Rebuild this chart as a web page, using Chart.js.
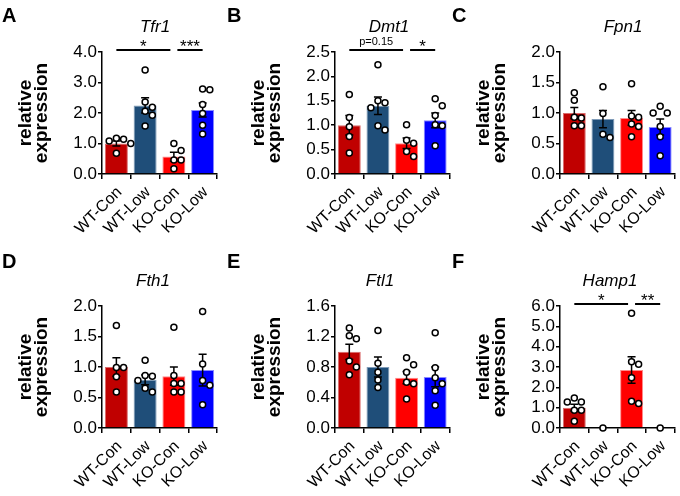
<!DOCTYPE html>
<html>
<head>
<meta charset="utf-8">
<script src="https://cdn.jsdelivr.net/npm/chart.js@4.4.1/dist/chart.umd.min.js"></script>
<style>
  html, body { margin: 0; padding: 0; background: #fff; }
  #fig { position: relative; width: 680px; height: 496px; overflow: hidden; }
  #fig canvas { position: absolute; }
</style>
</head>
<body>
<div id="fig"></div>
<script>
// Grupos e genes
const groups = ["WT-Con", "WT-Low", "KO-Con", "KO-Low"];
const letters = ["A", "B", "C", "D", "E", "F"];
const genes = ["Tfr1", "Dmt1", "Fpn1", "Fth1", "Ftl1", "Hamp1"];

// Eixo y de cada painel
const yMax = [4.0, 2.5, 2.0, 2.0, 1.6, 6.0];
const yStep = [1.0, 0.5, 0.5, 0.5, 0.4, 1.0];

// Médias (altura das barras) e erro padrão
const means = [
  [1.00, 2.25, 0.57, 2.10],
  [1.00, 1.40, 0.63, 1.10],
  [1.00, 0.90, 0.92, 0.77],
  [1.00, 0.79, 0.85, 0.95],
  [1.00, 0.80, 0.66, 0.67],
  [1.00, 0.00, 2.85, 0.00]
];
const sems = [
  [0.08, 0.25, 0.14, 0.23],
  [0.20, 0.18, 0.11, 0.15],
  [0.09, 0.14, 0.12, 0.13],
  [0.15, 0.08, 0.15, 0.26],
  [0.10, 0.13, 0.08, 0.13],
  [0.17, 0.00, 0.65, 0.00]
];

// Pontos individuais (um array por grupo)
const points = [
  [[1.17, 1.14, 1.08, 1.00, 0.68], [3.41, 2.36, 2.19, 2.06, 1.93, 1.57], [1.00, 0.77, 0.46, 0.46, 0.17], [2.79, 2.76, 2.28, 1.98, 1.60, 1.31]],
  [[1.63, 1.16, 0.97, 0.77, 0.43], [2.24, 1.50, 1.46, 1.36, 0.99, 0.90], [1.01, 0.69, 0.63, 0.46, 0.36], [1.54, 1.40, 1.20, 1.01, 0.99, 0.58]],
  [[1.33, 1.21, 0.93, 0.92, 0.79, 0.79], [1.43, 0.99, 0.65, 0.60], [1.48, 0.95, 0.93, 0.82, 0.78, 0.61], [1.11, 1.00, 1.00, 0.78, 0.61, 0.30]],
  [[1.68, 0.99, 0.99, 0.84, 0.59], [1.11, 0.86, 0.85, 0.78, 0.65, 0.59], [1.65, 0.86, 0.73, 0.73, 0.59, 0.59], [1.91, 1.05, 0.78, 0.70, 0.38]],
  [[1.31, 1.21, 1.17, 0.88, 0.80, 0.70], [1.28, 0.85, 0.73, 0.63, 0.53], [0.92, 0.83, 0.73, 0.60, 0.58, 0.38], [1.25, 0.79, 0.66, 0.58, 0.49, 0.30]],
  [[1.48, 1.28, 1.28, 0.87, 0.87, 0.33], [0.00], [5.64, 3.26, 3.13, 2.47, 1.32, 1.20], [0.00]]
];

// Comparações: [grupo inicial, grupo final, texto]
const brackets = [
  [[0, 2, "*"], [2, 3, "***"]],
  [[0, 2, "p=0.15"], [2, 3, "*"]],
  [],
  [],
  [],
  [[0, 2, "*"], [2, 3, "**"]]
];

const barColors = ["#c00000", "#1f4e79", "#ff0000", "#0000ff"];
const barEdges = ["#d96a6a", "#7f9bb8", "#ff8a8a", "#8a8aff"];
const FONT = "Arial, 'Liberation Sans', Helvetica, sans-serif";

// Posição de cada painel na figura (pixels)
const panelLeft = [0, 225, 450, 0, 225, 450];
const panelTop = [0, 0, 0, 245, 245, 245];
const canvasW = [225, 230, 230, 225, 230, 230];
const canvasH = [245, 245, 245, 251, 251, 251];
const plotLeft = [102, 110, 110, 102, 110, 110];
const plotRight = [217, 227, 227, 217, 227, 227];
const plotTop = [52, 52, 52, 61, 61, 61];
const plotBottom = [174, 174, 174, 183, 183, 183];
const titleX = [155, 164, 173, 153, 155, 160];
const Y_AXIS_W = 84;

// Espalha os pontos na horizontal para não se sobreporem
function swarm(vals, pxPerVal, catPx) {
    const d = 7.2;
    const step = d / catPx;
    const placed = [];
    return vals.map(v => {
        let off = 0;
        for (let n = 0; n < 15; n++) {
            off = n === 0 ? 0 : (n % 2 ? 1 : -1) * Math.ceil(n / 2) * step;
            const ok = placed.every(p => Math.hypot((p.o - off) * catPx, (p.v - v) * pxPerVal) >= d);
            if (ok) break;
        }
        placed.push({ o: off, v: v });
        return off;
    });
}

// Plugin: barras de erro, letra, título e colchetes de significância
const annotate = {
    id: "annotate",
    afterDatasetDraw(chart, args) {
        if (args.index !== 0) return;
        const o = chart.options.plugins.annotate;
        const xs = chart.scales.x, ys = chart.scales.y;
        const ctx = chart.ctx;
        ctx.save();
        ctx.strokeStyle = "#000";
        ctx.lineWidth = 1.5;
        o.means.forEach((m, i) => {
            const e = o.sems[i];
            if (!e) return;
            const cx = xs.getPixelForValue(i);
            const top = ys.getPixelForValue(m + e);
            const bot = ys.getPixelForValue(m - e);
            ctx.beginPath();
            ctx.moveTo(cx, top); ctx.lineTo(cx, bot);
            ctx.moveTo(cx - 4, top); ctx.lineTo(cx + 4, top);
            ctx.moveTo(cx - 4, bot); ctx.lineTo(cx + 4, bot);
            ctx.stroke();
        });
        ctx.restore();
    },
    afterDraw(chart) {
        const o = chart.options.plugins.annotate;
        const ctx = chart.ctx;
        const xs = chart.scales.x;
        const top = chart.chartArea.top;
        ctx.save();
        ctx.fillStyle = "#000";
        ctx.textBaseline = "alphabetic";
        // letra do painel
        ctx.textAlign = "left";
        ctx.font = "bold 20px " + FONT;
        ctx.fillText(o.letter, 2, o.letterY);
        // nome do gene
        ctx.textAlign = "center";
        ctx.font = "italic 17px " + FONT;
        ctx.fillText(o.gene, o.titleX, top - 20);
        // colchetes
        const lineY = top - 2;
        ctx.strokeStyle = "#000";
        ctx.lineWidth = 2;
        o.brackets.forEach(([a, b, label]) => {
            const shared = idx => o.brackets.filter(q => q[0] === idx || q[1] === idx).length > 1;
            const x1 = xs.getPixelForValue(a) + (shared(a) ? 3.5 : 0);
            const x2 = xs.getPixelForValue(b) - (shared(b) ? 3.5 : 0);
            ctx.beginPath();
            ctx.moveTo(x1, lineY); ctx.lineTo(x2, lineY);
            ctx.stroke();
            if (label.startsWith("p")) {
                ctx.font = "11px " + FONT;
                ctx.fillText(label, (x1 + x2) / 2, lineY - 5.5);
            } else {
                ctx.font = "17px " + FONT;
                ctx.fillText(label, (x1 + x2) / 2, lineY + 1.5);
            }
        });
        ctx.restore();
    }
};

const fig = document.getElementById("fig");

genes.forEach((gene, k) => {
    const canvas = document.createElement("canvas");
    canvas.width = canvasW[k];
    canvas.height = canvasH[k];
    canvas.style.left = panelLeft[k] + "px";
    canvas.style.top = panelTop[k] + "px";
    fig.appendChild(canvas);

    const catPx = (plotRight[k] - plotLeft[k]) / groups.length;
    const pxPerVal = (plotBottom[k] - plotTop[k]) / yMax[k];
    const dots = [];
    points[k].forEach((vals, g) => {
        const offs = swarm(vals, pxPerVal, catPx);
        vals.forEach((v, j) => dots.push({ x: g + offs[j], y: v }));
    });

    const xHeight = canvasH[k] - plotBottom[k];

    new Chart(canvas, {
        type: "bar",
        data: {
            labels: groups,
            datasets: [
                {
                    type: "bar",
                    data: means[k],
                    backgroundColor: barColors,
                    borderColor: barEdges,
                    borderWidth: { top: 1, left: 1, right: 1, bottom: 0 },
                    barPercentage: 0.8,
                    categoryPercentage: 1.0,
                    grouped: false,
                    order: 0
                },
                {
                    type: "scatter",
                    data: dots,
                    xAxisID: "xd",
                    yAxisID: "y",
                    pointRadius: 3,
                    pointBorderWidth: 1.5,
                    pointBackgroundColor: "#fff",
                    pointBorderColor: "#000",
                    clip: false,
                    order: -1
                }
            ]
        },
        options: {
            responsive: false,
            animation: false,
            layout: {
                padding: { left: plotLeft[k] - Y_AXIS_W, right: canvasW[k] - plotRight[k], top: plotTop[k], bottom: 0 }
            },
            plugins: {
                legend: { display: false },
                tooltip: { enabled: false },
                annotate: {
                    means: means[k],
                    sems: sems[k],
                    brackets: brackets[k],
                    letter: letters[k],
                    gene: gene,
                    titleX: titleX[k],
                    letterY: k < 3 ? 22 : 23
                }
            },
            scales: {
                x: {
                    type: "category",
                    offset: true,
                    grid: { offset: true, drawOnChartArea: false, drawTicks: true, tickLength: 5, color: "#000", lineWidth: 1.5 },
                    border: { color: "#000", width: 1.5 },
                    ticks: {
                        autoSkip: false,
                        minRotation: 45,
                        maxRotation: 45,
                        padding: 4,
                        labelOffset: 3,
                        color: "#000",
                        font: { family: FONT, size: 16 }
                    },
                    afterFit: s => { s.height = xHeight; }
                },
                xd: {
                    type: "linear",
                    axis: "x",
                    position: "bottom",
                    display: false,
                    offset: false,
                    grid: { offset: false },
                    min: -0.5,
                    max: 3.5
                },
                y: {
                    min: 0,
                    max: yMax[k],
                    grid: { drawOnChartArea: false, drawTicks: true, tickLength: 4, color: "#000", lineWidth: 1.5 },
                    border: { color: "#000", width: 1.5 },
                    ticks: {
                        stepSize: yStep[k],
                        autoSkip: false,
                        padding: 1,
                        color: "#000",
                        font: { family: FONT, size: 17 },
                        callback: v => Number(v).toFixed(1)
                    },
                    title: {
                        display: true,
                        text: ["relative", "expression"],
                        color: "#000",
                        padding: 0,
                        font: { family: FONT, size: 19, weight: "bold", lineHeight: 0.82 }
                    },
                    afterFit: s => { s.width = Y_AXIS_W; }
                }
            }
        },
        plugins: [annotate]
    });
});
</script>
</body>
</html>
